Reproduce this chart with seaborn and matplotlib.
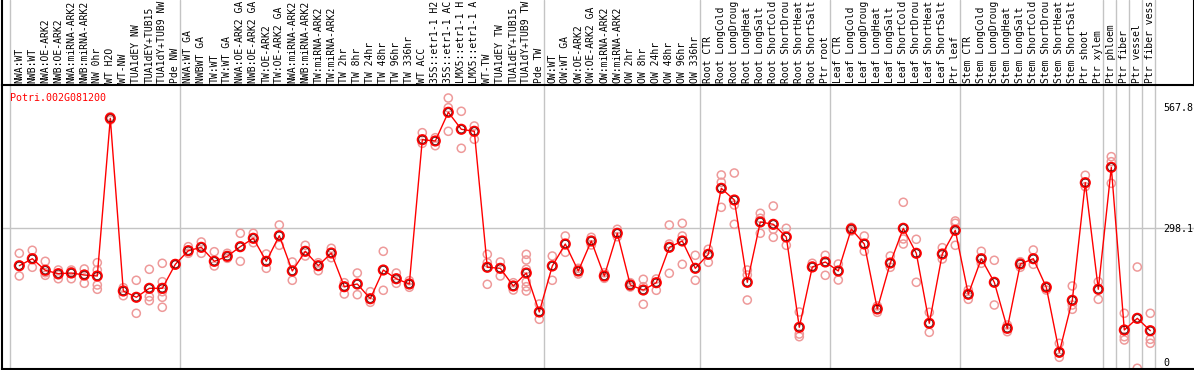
import numpy as np
import pandas as pd
import matplotlib
matplotlib.use("Agg")
import matplotlib.pyplot as plt
import seaborn as sns

gene = "Potri.002G081200"

# column labels as they can be read in the header band (it shows at most 14 characters)
group_nw = ["NWA:WT", "NWB:WT", "NWA:OE-ARK2", "NWB:OE-ARK2", "NWA:miRNA-ARK2",
            "NWB:miRNA-ARK2", "NW 0hr", "WT H2O", "WT-NW", "TUA1dEY NW",
            "TUA1dEY+TUB15", "TUA1dY+TUB9 NW", "Pde NW"]
group_tw = ["NWA:WT GA", "NWBWT GA", "TW:WT", "TW:WT GA", "NWA:OE-ARK2 GA",
            "NWB:OE-ARK2 GA", "TW:OE-ARK2", "TW:OE-ARK2 GA", "NWA:miRNA-ARK2",
            "NWB:miRNA-ARK2", "TW:miRNA-ARK2", "TW:miRNA-ARK2", "TW 2hr", "TW 8hr",
            "TW 24hr", "TW 48hr", "TW 96hr", "TW 336hr", "WT ACC", "35S::etr1-1 H2",
            "35S::etr1-1 AC", "LMX5::etr1-1 H", "LMX5::etr1-1 A", "WT-TW",
            "TUA1dEY TW", "TUA1dEY+TUB15", "TUA1dY+TUB9 TW", "Pde TW"]
group_ow = ["OW:WT", "OW:WT GA", "OW:OE-ARK2", "OW:OE-ARK2 GA", "OW:miRNA-ARK2",
            "OW:miRNA-ARK2", "OW 2hr", "OW 8hr", "OW 24hr", "OW 48hr", "OW 96hr",
            "OW 336hr"]
group_root = ["Root CTR", "Root LongCold", "Root LongDroug", "Root LongHeat",
              "Root LongSalt", "Root ShortCold", "Root ShortDrou", "Root ShortHeat",
              "Root ShortSalt", "Ptr root"]
group_leaf = ["Leaf CTR", "Leaf LongCold", "Leaf LongDroug", "Leaf LongHeat",
              "Leaf LongSalt", "Leaf ShortCold", "Leaf ShortDrou", "Leaf ShortHeat",
              "Leaf ShortSalt", "Ptr leaf"]
group_stem = ["Stem CTR", "Stem LongCold", "Stem LongDroug", "Stem LongHeat",
              "Stem LongSalt", "Stem ShortCold", "Stem ShortDrou", "Stem ShortHeat",
              "Stem ShortSalt", "Ptr shoot", "Ptr xylem"]
group_phloem = ["Ptr phloem"]
group_fiber = ["Ptr fiber"]
group_vessel = ["Ptr vessel"]
group_fv = ["Ptr fiber vess"]

groups = [group_nw, group_tw, group_ow, group_root, group_leaf, group_stem,
          group_phloem, group_fiber, group_vessel, group_fv]

mean_values = [
    214.7, 230.3, 204.5, 196.9, 198.4, 194.0, 191.8, 543.4, 158.3, 144.3, 164.3, 164.3, 217.8,
    248.2, 255.7, 224.5, 235.7, 257.1, 275.8, 224.5, 281.6, 202.9, 246.8, 214.7, 243.0,
    167.9, 173.9, 141.1, 205.1, 185.7, 173.9, 495.7, 492.8, 556.8, 518.9, 514.4, 211.2,
    208.9, 169.5, 198.4, 111.5,
    214.1, 263.1, 202.9, 269.8, 191.8, 287.0, 171.7, 160.5, 176.8, 255.7, 269.8, 208.9,
    240.1, 387.3, 361.2, 177.7, 312.2, 307.0, 278.7, 77.4, 211.8, 223.0,
    202.9, 296.6, 263.1, 118.2, 220.7, 298.1, 242.4, 86.3, 240.8, 293.6,
    151.0, 230.3, 177.7, 75.1, 218.5, 230.3, 166.6, 21.6, 137.6, 399.8, 162.1,
    434.1, 71.4, 97.4, 69.8]

replicate_values = [
    [242.4, 214.1, 191.8], [249.1, 211.2, 230.3], [224.5, 199.1, 193.3],
    [205.1, 185.7, 194.0], [205.1, 185.7, 201.3], [207.4, 175.5, 195.5],
    [221.4, 205.1, 171.7, 162.1], [546.9, 539.6], [165.7, 147.8], [182.2, 108.6],
    [206.7, 145.6, 136.7], [220.1, 179.0, 156.7, 144.3, 122.0], [217.8, 216.5, 219.0],
    [257.1, 242.4], [267.6, 242.4], [245.9, 214.1], [242.4, 231.2], [287.0, 224.5],
    [287.0, 266.0], [240.8, 208.9], [305.5, 260.2], [223.0, 182.2], [260.2, 236.3],
    [221.4, 203.6], [253.5, 232.6], [176.8, 151.6], [198.4, 150.1], [156.7, 133.1],
    [246.8, 159.9], [198.4, 175.5], [181.3, 166.6], [511.3, 487.6], [500.1, 482.3],
    [588.6, 567.0, 514.4], [559.0, 476.5], [526.2, 496.6], [240.1, 221.4, 173.2],
    [223.0, 191.8], [176.8, 160.5], [240.1, 227.4, 206.7, 179.0, 167.9, 158.3],
    [129.3, 95.2],
    [236.3, 182.2], [280.9, 244.6], [208.9, 196.2], [278.0, 260.9], [199.1, 186.6],
    [295.9, 279.4], [176.8, 167.2], [184.4, 167.9, 128.7], [185.1, 159.9],
    [305.5, 263.1, 197.8], [309.3, 280.9, 217.8], [237.9, 182.2],
    [251.3, 222.3], [417.0, 400.7, 344.9], [421.4, 350.1, 307.0], [205.1, 194.0, 138.2],
    [331.6, 320.4, 287.0], [347.8, 295.9, 278.0], [298.1, 260.2], [111.5, 62.4, 56.4],
    [220.1, 214.1], [237.9, 193.3],
    [218.5, 182.8], [300.3, 292.1], [280.9, 246.8], [110.8, 124.9], [236.3, 211.2],
    [356.1, 274.3, 263.1], [273.6, 177.7], [110.8, 66.2], [254.9, 229.7],
    [314.4, 309.3, 260.2],
    [160.5, 139.8], [246.8, 220.1], [226.8, 127.1], [82.5, 67.6], [223.6, 211.2],
    [249.7, 217.8], [169.5, 160.5], [41.7, 10.5], [169.5, 127.1, 117.5], [416.3, 390.9],
    [179.0, 139.8],
    [457.8, 446.6, 398.4], [108.6, 56.4, 49.1], [211.8, -14.0], [108.6, 50.6, 41.7]]

y_tick_values = [0, 298.1, 567.8]
y_tick_labels = ["0", "298.1", "567.8"]

# ---------------------------------------------------------------
sns.set_style("white")
plt.rcParams["font.family"] = ["DejaVu Sans Mono"]

sample_labels = [s for g in groups for s in g]
n = len(sample_labels)
idx = np.arange(n)

df_mean = pd.DataFrame({"idx": idx, "value": mean_values})
rows = [(i, v) for i, vals in enumerate(replicate_values) for v in vals]
df_rep = pd.DataFrame(rows, columns=["idx", "value"])

W, H = 1194, 370
fig = plt.figure(figsize=(W / 100, H / 100), dpi=100)
fig.patch.set_facecolor("white")

left_px, right_px = 2.0, 1193.5
top_lab, plot_top, plot_bot = 0.0, 85.0, 369.3
ax = fig.add_axes([left_px / W, (H - plot_bot) / H, (right_px - left_px) / W,
                   (plot_bot - plot_top) / H])
ax_lab = fig.add_axes([left_px / W, (H - plot_top) / H, (right_px - left_px) / W,
                       (plot_top - top_lab) / H])

# x mapping: index i at pixel 19.3 + 13 i
x0_px, step = 19.3, 13.0
xlim = ((left_px - x0_px) / step, (right_px - x0_px) / step)
# y mapping: value v at pixel 362 - 0.4485 v
k, y0_px = 0.4485, 362.0
ylim = ((y0_px - plot_bot) / k, (y0_px - plot_top) / k)

grid_c = "#c4c4c4"
sizes = np.cumsum([len(g) for g in groups])
edges = [-0.7] + [c - 0.62 for c in sizes]
for a in (ax, ax_lab):
    a.set_xlim(*xlim)
    for e in edges:
        a.axvline(e, color=grid_c, lw=1.0, zorder=0)

ax.set_ylim(*ylim)
ax.axhline(298.1, color=grid_c, lw=1.0, zorder=0)

rep_c = "#ee9a9a"
sns.scatterplot(data=df_rep, x="idx", y="value", ax=ax, marker="o",
                facecolor="none", edgecolor=rep_c, linewidth=1.1, s=34,
                zorder=2, legend=False)
sns.lineplot(data=df_mean, x="idx", y="value", ax=ax, color="#ff0000", lw=1.0,
             zorder=3, legend=False)
sns.scatterplot(data=df_mean, x="idx", y="value", ax=ax, marker="o",
                facecolor="none", edgecolor="#ff0000", linewidth=1.4, s=44,
                zorder=4, legend=False)
sns.scatterplot(data=df_mean, x="idx", y="value", ax=ax, marker="o",
                facecolor="none", edgecolor="#3a0000", linewidth=0.45, s=26,
                zorder=5, legend=False)

ax.set_xlabel("")
ax.set_ylabel("")
ax.set_xticks([])
ax.yaxis.tick_right()
ax.set_yticks(y_tick_values)
ax.set_yticklabels(y_tick_labels)
ax.tick_params(axis="y", length=0, pad=-21.8, labelsize=7.2, labelcolor="black")
for lab in ax.get_yticklabels():
    lab.set_horizontalalignment("left")
for s in ["top", "right"]:
    ax.spines[s].set_visible(False)
for s in ["left", "bottom"]:
    ax.spines[s].set_color("black")
    ax.spines[s].set_linewidth(1.5)

ax.text((10 - left_px) / (right_px - left_px), (plot_bot - 100.7) / (plot_bot - plot_top),
        gene, transform=ax.transAxes, color="#ff0000", fontsize=7.2,
        ha="left", va="baseline")

ax_lab.set_ylim(0, 1)
ax_lab.set_xticks([])
ax_lab.set_yticks([])
ax_lab.spines["top"].set_visible(False)
for s in ["left", "right", "bottom"]:
    ax_lab.spines[s].set_color("black")
    ax_lab.spines[s].set_linewidth(1.5)
for i, lab in enumerate(sample_labels):
    ax_lab.text(i, 1.6 / (plot_top - top_lab), lab, rotation=90, ha="center",
                va="bottom", fontsize=7.05, color="black")

fig.savefig("out.png", dpi=100, facecolor="white")
